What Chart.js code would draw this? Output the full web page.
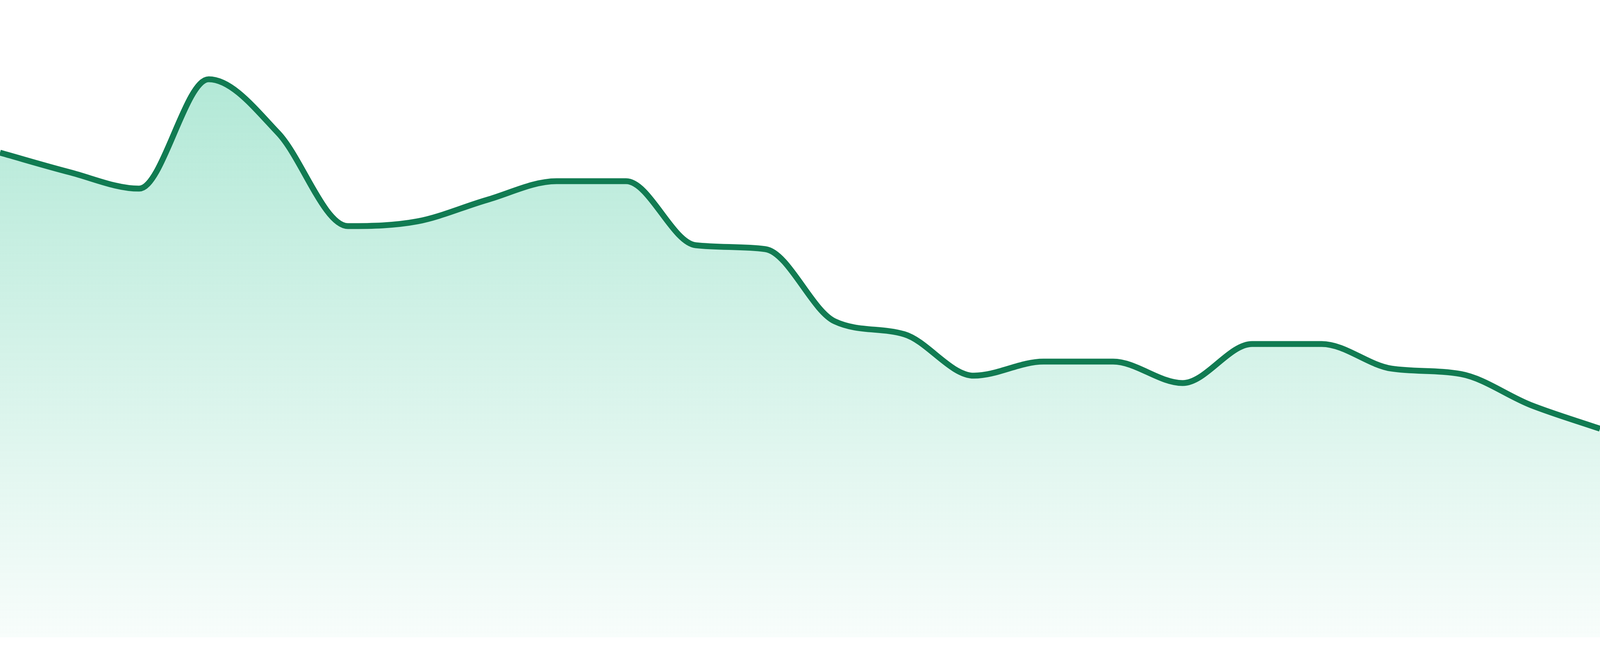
<!DOCTYPE html>
<html>
<head>
<meta charset="utf-8">
<script src="https://cdn.jsdelivr.net/npm/chart.js@4"></script>
<style>
  html, body { margin: 0; padding: 0; background: #ffffff; overflow: hidden; }
  #wrap { position: fixed; left: 0; top: 0; width: 100vw; height: 100vh; }
</style>
</head>
<body>
<div id="wrap"><canvas id="c"></canvas></div>
<script>
const labels = ['1','2','3','4','5','6','7','8','9','10','11','12','13','14','15','16','17','18','19','20','21','22','23','24'];
const values = [76.04, 72.98, 70.40, 87.56, 79.11, 64.52, 65.26, 68.63, 71.57, 71.57, 61.52, 60.91, 49.57, 47.55, 41.05, 43.26, 43.26, 39.89, 46.02, 46.02, 42.16, 41.30, 36.46, 32.72];
const yMin = 0;
const yMax = 100;

const lineColor = 'rgb(17,123,82)';
const k = window.innerHeight / 1680;

new Chart(document.getElementById('c'), {
  type: 'line',
  data: {
    labels: labels,
    datasets: [{
      data: values,
      borderColor: lineColor,
      borderWidth: 15 * k,
      pointRadius: 0,
      pointHoverRadius: 0,
      cubicInterpolationMode: 'monotone',
      fill: 'origin',
      backgroundColor: (ctx) => {
        const ca = ctx.chart.chartArea;
        if (!ca) return 'rgba(16,185,129,0.2)';
        const g = ctx.chart.ctx.createLinearGradient(0, ca.top, 0, ca.bottom);
        g.addColorStop(0, 'rgba(16,185,129,0.36)');
        g.addColorStop(1, 'rgba(16,185,129,0.03)');
        return g;
      }
    }]
  },
  options: {
    responsive: true,
    maintainAspectRatio: false,
    animation: false,
    layout: { padding: { top: 0, left: 0, right: 0, bottom: 48 * k } },
    plugins: { legend: { display: false }, tooltip: { enabled: false } },
    scales: {
      x: { display: false, offset: false },
      y: { display: false, min: yMin, max: yMax }
    }
  }
});
</script>
</body>
</html>
